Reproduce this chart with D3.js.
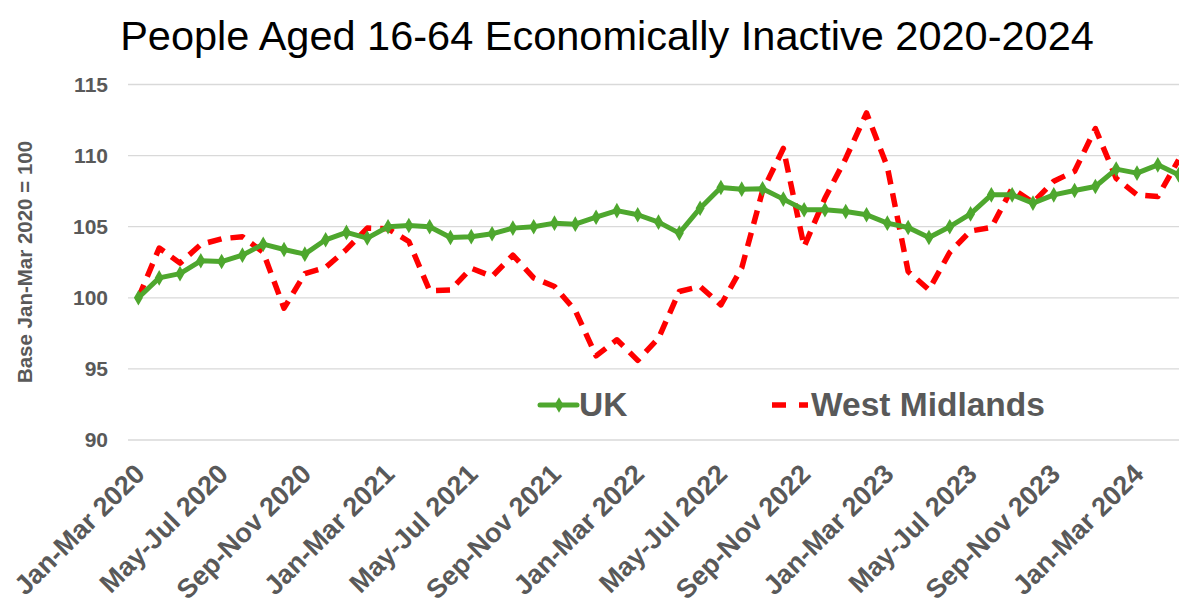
<!DOCTYPE html>
<html>
<head>
<meta charset="utf-8">
<script src="https://cdn.jsdelivr.net/npm/d3@7"></script>
<style>
  body { margin: 0; background: #fff; }
  svg { display: block; font-family: "Liberation Sans", Arial, sans-serif; }
</style>
</head>
<body>
<svg id="chart" width="1179" height="608"></svg>
<script>
// rolling quarters, Jan-Mar 2020 .. Mar-May 2024
const periods = [
  'Jan-Mar 2020', 'Feb-Apr 2020', 'Mar-May 2020', 'Apr-Jun 2020', 'May-Jul 2020', 'Jun-Aug 2020',
  'Jul-Sep 2020', 'Aug-Oct 2020', 'Sep-Nov 2020', 'Oct-Dec 2020', 'Nov-Jan 2021', 'Dec-Feb 2021',
  'Jan-Mar 2021', 'Feb-Apr 2021', 'Mar-May 2021', 'Apr-Jun 2021', 'May-Jul 2021', 'Jun-Aug 2021',
  'Jul-Sep 2021', 'Aug-Oct 2021', 'Sep-Nov 2021', 'Oct-Dec 2021', 'Nov-Jan 2022', 'Dec-Feb 2022',
  'Jan-Mar 2022', 'Feb-Apr 2022', 'Mar-May 2022', 'Apr-Jun 2022', 'May-Jul 2022', 'Jun-Aug 2022',
  'Jul-Sep 2022', 'Aug-Oct 2022', 'Sep-Nov 2022', 'Oct-Dec 2022', 'Nov-Jan 2023', 'Dec-Feb 2023',
  'Jan-Mar 2023', 'Feb-Apr 2023', 'Mar-May 2023', 'Apr-Jun 2023', 'May-Jul 2023', 'Jun-Aug 2023',
  'Jul-Sep 2023', 'Aug-Oct 2023', 'Sep-Nov 2023', 'Oct-Dec 2023', 'Nov-Jan 2024', 'Dec-Feb 2024',
  'Jan-Mar 2024', 'Feb-Apr 2024', 'Mar-May 2024'
];

// index, base Jan-Mar 2020 = 100
const ukValues = [
  100.0, 101.4, 101.7, 102.6, 102.55, 103.0, 103.77, 103.4, 103.07, 104.08, 104.6, 104.2,
  105.0, 105.08, 105.0, 104.24, 104.3, 104.5, 104.9, 105.0, 105.25, 105.18, 105.67, 106.13,
  105.84, 105.32, 104.55, 106.3, 107.76, 107.64, 107.67, 106.94, 106.19, 106.19, 106.07, 105.84,
  105.25, 104.94, 104.24, 105.0, 105.9, 107.24, 107.24, 106.66, 107.24, 107.55, 107.83, 109.05,
  108.77, 109.35, 108.65
];

const wmValues = [
  100.0, 103.5, 102.44, 103.75, 104.15, 104.3, 103.2, 99.27, 101.7, 102.13, 103.4, 104.9,
  104.85, 103.96, 100.5, 100.55, 102.08, 101.5, 103.0, 101.4, 100.8, 99.1, 95.92, 97.05,
  95.6, 97.16, 100.44, 100.8, 99.5, 102.1, 107.5, 110.5, 103.6, 107.0, 109.8, 113.0,
  109.2, 101.85, 100.56, 103.2, 104.7, 104.95, 107.7, 106.7, 108.2, 108.9, 111.9, 108.4,
  107.24, 107.12, 109.7
];

const yTicks = [90, 95, 100, 105, 110, 115];
const seriesNames = ['UK', 'West Midlands'];

const grey = '#595959';
const green = '#4EA72E';
const red = '#FF0000';

const svg = d3.select('#chart');

const x = d3.scalePoint()
  .domain(periods)
  .range([128, 1189])
  .padding(0.5);

const y = d3.scaleLinear()
  .domain([90, 115])
  .range([440, 84.5]);

// title
svg.append('text')
  .attr('x', 607)
  .attr('y', 50)
  .attr('text-anchor', 'middle')
  .style('font-size', '41.5px')
  .style('fill', '#000')
  .text('People Aged 16-64 Economically Inactive 2020-2024');

// gridlines
svg.append('g')
  .selectAll('line')
  .data(yTicks)
  .enter()
  .append('line')
  .attr('x1', 128)
  .attr('x2', 1189)
  .attr('y1', d => y(d))
  .attr('y2', d => y(d))
  .attr('stroke', '#d9d9d9')
  .attr('stroke-width', 1.3);

// y axis labels
const yAxis = svg.append('g')
  .attr('transform', 'translate(112,0)')
  .call(d3.axisLeft(y).tickValues(yTicks).tickSize(0).tickPadding(4));
yAxis.select('.domain').remove();
yAxis.selectAll('text')
  .style('font-family', '"Liberation Sans", Arial, sans-serif')
  .style('font-size', '21px')
  .style('font-weight', 'bold')
  .style('fill', grey);

svg.append('text')
  .attr('transform', 'translate(32,262) rotate(-90)')
  .attr('text-anchor', 'middle')
  .style('font-size', '20.5px')
  .style('font-weight', 'bold')
  .style('fill', grey)
  .text('Base Jan-Mar 2020 = 100');

// x axis labels, every fourth period
const xAxis = svg.append('g')
  .attr('transform', 'translate(-6,462)')
  .call(d3.axisBottom(x)
    .tickValues(periods.filter((d, i) => i % 4 === 0))
    .tickSize(0));
xAxis.select('.domain').remove();
xAxis.selectAll('text')
  .attr('text-anchor', 'end')
  .attr('transform', 'rotate(-45)')
  .attr('dx', '0')
  .attr('dy', '0.6em')
  .style('font-family', '"Liberation Sans", Arial, sans-serif')
  .style('font-size', '27px')
  .style('font-weight', 'bold')
  .style('fill', grey);

// lines
const line = d3.line()
  .x((d, i) => x(periods[i]))
  .y(d => y(d));

svg.append('path')
  .datum(wmValues)
  .attr('fill', 'none')
  .attr('stroke', red)
  .attr('stroke-width', 5.5)
  .attr('stroke-dasharray', '14 9')
  .attr('stroke-linejoin', 'round')
  .attr('d', line);

svg.append('path')
  .datum(ukValues)
  .attr('fill', 'none')
  .attr('stroke', green)
  .attr('stroke-width', 5)
  .attr('stroke-linejoin', 'round')
  .attr('d', line);

const diamond = d3.symbol().type(d3.symbolDiamond).size(70);

svg.append('g')
  .selectAll('path')
  .data(ukValues)
  .enter()
  .append('path')
  .attr('d', diamond)
  .attr('transform', (d, i) => `translate(${x(periods[i])},${y(d)})`)
  .attr('fill', green);

// legend
const legend = svg.append('g');
legend.append('line')
  .attr('x1', 540).attr('x2', 577)
  .attr('y1', 405).attr('y2', 405)
  .attr('stroke', green)
  .attr('stroke-width', 5)
  .attr('stroke-linecap', 'round');
legend.append('path')
  .attr('d', diamond)
  .attr('transform', 'translate(559,405)')
  .attr('fill', green);
legend.append('line')
  .attr('x1', 772).attr('x2', 808)
  .attr('y1', 405).attr('y2', 405)
  .attr('stroke', red)
  .attr('stroke-width', 5.5)
  .attr('stroke-dasharray', '14 13');

legend.selectAll('text')
  .data(seriesNames)
  .enter()
  .append('text')
  .attr('x', (d, i) => (i === 0 ? 579 : 811))
  .attr('y', 416)
  .style('font-size', '33.5px')
  .style('font-weight', 'bold')
  .style('fill', grey)
  .text(d => d);
</script>
</body>
</html>
